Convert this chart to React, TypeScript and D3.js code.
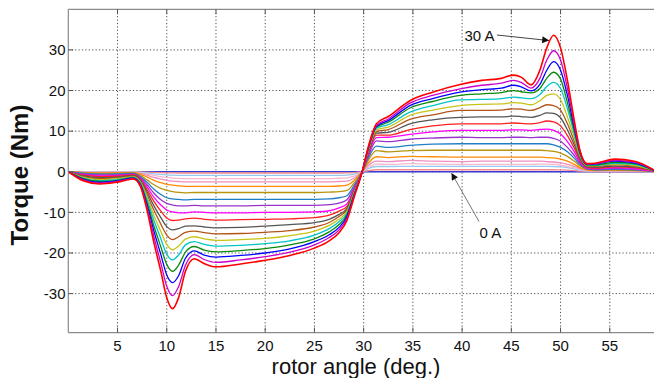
import React from "react";
import * as d3 from "d3";

// Rotor angle sample positions (deg.) shared by every torque curve
const angles = [0, 1.5, 3.2, 5, 6.6, 7.3, 8, 8.7, 9.4, 10, 10.6, 11.2, 11.9, 12.8, 13.8, 15, 17.5, 20, 22.5, 25, 26.5, 27.5, 28.3, 29, 29.85, 30.4, 31.3, 32.5, 34.7, 37, 39.8, 42, 44, 45.2, 46, 47, 47.9, 48.6, 49.3, 50, 50.7, 51.4, 52, 52.7, 53.5, 55.5, 57.5, 59.5];

// Static torque (Nm) per phase current, lowest current first
const torqueC00 = [0, 0, 0, 0, 0, 0, 0, 0, 0, 0, 0, 0, 0, 0, 0, 0, 0, 0, 0, 0, 0, 0, 0, 0, 0, 0, 0, 0, 0, 0, 0, 0, 0, 0, 0, 0, 0, 0, 0, 0, 0, 0, 0, 0, 0, 0, 0, 0];
const torqueC01 = [0, -0.01, -0.02, -0.02, -0.01, -0.05, -0.1, -0.17, -0.22, -0.26, -0.28, -0.3, -0.3, -0.3, -0.3, -0.3, -0.3, -0.3, -0.3, -0.3, -0.3, -0.3, -0.28, -0.2, 0, 0.25, 0.5, 0.5, 0.5, 0.5, 0.5, 0.5, 0.5, 0.5, 0.5, 0.5, 0.5, 0.5, 0.5, 0.45, 0.38, 0.28, 0.16, 0.08, 0.05, 0.05, 0.05, 0.01];
const torqueC02 = [0, -0.04, -0.06, -0.05, -0.04, -0.14, -0.3, -0.5, -0.65, -0.75, -0.82, -0.87, -0.9, -0.9, -0.9, -0.9, -0.9, -0.9, -0.9, -0.9, -0.9, -0.88, -0.85, -0.6, 0, 0.7, 1.3, 1.3, 1.35, 1.35, 1.35, 1.35, 1.35, 1.35, 1.35, 1.35, 1.35, 1.35, 1.3, 1.2, 1.0, 0.7, 0.4, 0.2, 0.1, 0.12, 0.1, 0.01];
const torqueC03 = [0, -0.08, -0.12, -0.1, -0.08, -0.25, -0.55, -0.9, -1.2, -1.4, -1.55, -1.65, -1.7, -1.7, -1.7, -1.7, -1.7, -1.7, -1.7, -1.7, -1.7, -1.6, -1.5, -1.1, 0, 1.0, 1.9, 1.8, 2.0, 1.9, 1.8, 1.8, 1.8, 1.8, 1.8, 1.8, 1.9, 1.9, 1.8, 1.6, 1.3, 0.95, 0.55, 0.25, 0.15, 0.18, 0.15, 0.02];
const torqueC04 = [0, -0.12, -0.2, -0.18, -0.13, -0.4, -0.85, -1.4, -1.8, -2.1, -2.3, -2.4, -2.5, -2.5, -2.5, -2.5, -2.5, -2.5, -2.5, -2.5, -2.5, -2.4, -2.3, -1.6, 0, 1.4, 2.6, 2.5, 2.8, 2.6, 2.5, 2.6, 2.6, 2.6, 2.6, 2.6, 2.6, 2.5, 2.4, 2.2, 1.8, 1.3, 0.75, 0.35, 0.2, 0.25, 0.2, 0.03];
const torqueC05 = [0, -0.2, -0.3, -0.28, -0.2, -0.6, -1.3, -2.1, -2.7, -3.1, -3.3, -3.5, -3.6, -3.6, -3.6, -3.6, -3.6, -3.6, -3.6, -3.6, -3.6, -3.5, -3.3, -2.2, 0, 1.9, 3.7, 3.5, 3.8, 3.7, 3.6, 3.6, 3.6, 3.6, 3.6, 3.6, 3.6, 3.5, 3.4, 3.1, 2.6, 1.8, 1.0, 0.45, 0.3, 0.35, 0.3, 0.05];
const torqueC06 = [0, -0.3, -0.45, -0.4, -0.3, -0.9, -2.0, -3.2, -4.1, -4.6, -4.9, -5.1, -5.2, -5.1, -5.1, -5.1, -5.1, -5.1, -5.1, -5.1, -5.0, -4.9, -4.6, -2.9, 0, 2.5, 5.2, 4.9, 5.2, 5.3, 5.3, 5.3, 5.3, 5.3, 5.3, 5.3, 5.3, 5.2, 5.0, 4.6, 3.8, 2.6, 1.4, 0.6, 0.4, 0.5, 0.4, 0.05];
const torqueC07 = [0, -0.4, -0.6, -0.55, -0.4, -1.2, -2.6, -4.3, -5.6, -6.4, -6.7, -6.8, -6.9, -6.8, -6.8, -6.8, -6.8, -6.8, -6.8, -6.8, -6.7, -6.4, -5.9, -3.5, 0, 3.0, 6.3, 6.0, 6.5, 6.8, 6.9, 6.9, 6.9, 6.9, 6.9, 6.9, 6.9, 6.9, 6.6, 6.0, 4.9, 3.3, 1.7, 0.7, 0.5, 0.6, 0.5, 0.1];
const torqueC08 = [0, -0.55, -0.8, -0.75, -0.55, -1.4, -3.2, -5.3, -6.9, -7.8, -8.2, -8.4, -8.4, -8.3, -8.4, -8.4, -8.4, -8.3, -8.3, -8.3, -8.1, -7.7, -6.9, -4.0, 0, 3.4, 7.6, 7.4, 8.0, 8.3, 8.5, 8.4, 8.4, 8.5, 8.5, 8.4, 8.5, 8.5, 8.2, 7.5, 6.0, 4.0, 2.0, 0.8, 0.6, 0.8, 0.6, 0.1];
const torqueC09 = [0, -0.7, -1.0, -0.9, -0.7, -1.6, -3.8, -6.3, -8.2, -9.4, -9.9, -10.1, -10.1, -9.9, -10.0, -10.1, -10.1, -10.0, -10.0, -9.9, -9.6, -8.9, -7.9, -4.5, 0, 3.8, 8.4, 8.5, 9.2, 9.8, 10.2, 10.2, 10.2, 10.3, 10.3, 10.2, 10.4, 10.5, 10.2, 9.3, 7.4, 4.9, 2.4, 0.9, 0.8, 1.0, 0.8, 0.1];
const torqueC10 = [0, -0.85, -1.2, -1.1, -0.8, -1.8, -4.4, -7.3, -9.7, -11.4, -12.0, -11.9, -11.6, -11.4, -11.7, -11.9, -11.8, -11.7, -11.6, -11.3, -10.7, -9.7, -8.5, -4.8, 0, 4.1, 9.0, 9.0, 10.4, 11.3, 11.8, 11.8, 11.8, 12.0, 11.9, 11.8, 12.1, 12.5, 12.3, 11.3, 8.9, 5.8, 2.8, 1.1, 0.9, 1.2, 1.0, 0.15];
const torqueC11 = [0, -1.0, -1.45, -1.3, -0.95, -2.0, -5.0, -8.4, -11.3, -13.5, -14.3, -14.0, -13.4, -13.3, -13.6, -13.8, -13.7, -13.4, -13.0, -12.5, -11.7, -10.5, -9.0, -5.0, 0, 4.3, 9.5, 9.7, 11.8, 12.8, 13.4, 13.5, 13.5, 13.7, 13.6, 13.4, 13.9, 14.5, 14.4, 13.3, 10.3, 6.6, 3.1, 1.2, 1.1, 1.4, 1.2, 0.2];
const torqueC12 = [0, -1.2, -1.7, -1.5, -1.1, -2.3, -5.6, -9.5, -12.9, -15.6, -16.7, -16.0, -14.9, -14.6, -15.0, -15.3, -15.2, -14.9, -14.5, -13.6, -12.5, -11.0, -9.4, -5.2, 0, 4.5, 9.9, 10.4, 12.9, 14.0, 15.1, 15.1, 15.2, 15.5, 15.4, 15.1, 15.8, 16.5, 16.3, 15.2, 11.8, 7.5, 3.5, 1.4, 1.3, 1.7, 1.4, 0.2];
const torqueC13 = [0, -1.4, -1.95, -1.7, -1.25, -2.5, -6.2, -10.8, -14.7, -17.9, -19.2, -18.3, -16.6, -16.0, -16.5, -16.9, -16.7, -16.4, -15.7, -14.6, -13.2, -11.7, -9.8, -5.4, 0, 4.7, 10.3, 11.0, 13.9, 15.2, 16.3, 16.6, 16.7, 17.0, 16.9, 16.5, 17.5, 18.8, 19.2, 17.8, 13.5, 8.4, 3.8, 1.5, 1.5, 1.9, 1.6, 0.25];
const torqueC14 = [0, -1.55, -2.2, -1.9, -1.4, -2.7, -6.9, -12.0, -16.5, -20.3, -21.7, -20.5, -18.0, -17.2, -17.9, -18.3, -18.1, -17.7, -17.0, -15.6, -14.0, -12.3, -10.2, -5.6, 0, 4.9, 10.7, 11.6, 14.7, 16.3, 17.7, 17.8, 18.0, 18.4, 18.2, 18.0, 19.0, 21.0, 22.0, 20.5, 15.5, 9.3, 4.0, 1.6, 1.6, 2.1, 1.8, 0.3];
const torqueC15 = [0, -1.7, -2.4, -2.1, -1.5, -2.9, -7.6, -13.4, -18.5, -22.8, -24.5, -23.0, -19.8, -18.4, -19.3, -19.7, -19.4, -18.9, -18.0, -16.5, -14.8, -13.0, -10.6, -5.8, 0, 5.0, 11.0, 12.2, 15.7, 17.3, 18.8, 19.2, 19.5, 20.0, 19.7, 19.4, 20.5, 23.0, 24.5, 22.8, 17.0, 10.0, 4.3, 1.7, 1.7, 2.3, 2.0, 0.3];
const torqueC16 = [0, -1.85, -2.6, -2.25, -1.6, -3.1, -8.2, -14.6, -20.4, -25.4, -27.3, -25.6, -21.3, -19.5, -20.5, -21.0, -20.6, -20.0, -19.0, -17.2, -15.5, -13.7, -11.0, -6.0, 0, 5.2, 11.2, 12.6, 16.3, 18.0, 19.6, 20.2, 20.6, 21.3, 20.9, 19.9, 21.5, 25.0, 27.1, 25.0, 18.8, 10.8, 4.6, 1.8, 1.9, 2.6, 2.2, 0.35];
const torqueC17 = [0, -2.0, -2.8, -2.4, -1.7, -3.3, -8.8, -16.0, -22.5, -28.2, -30.5, -28.3, -23.0, -20.4, -21.6, -22.3, -21.7, -20.9, -19.8, -18.0, -16.2, -14.3, -11.5, -6.2, 0, 5.3, 11.4, 13.0, 16.9, 18.8, 20.4, 21.3, 21.8, 22.5, 22.0, 20.6, 23.0, 27.5, 29.8, 27.5, 20.5, 11.5, 4.8, 1.9, 2.0, 2.8, 2.4, 0.4];
const torqueC18 = [0, -2.2, -3.0, -2.55, -1.8, -3.5, -9.5, -17.5, -24.5, -31.0, -33.7, -31.0, -24.5, -21.4, -22.6, -23.4, -22.7, -21.8, -20.6, -18.8, -17.0, -15.0, -12.0, -6.5, 0, 5.5, 11.8, 13.6, 17.5, 19.6, 21.5, 22.5, 23.0, 23.8, 23.3, 21.4, 25.0, 30.5, 33.6, 30.5, 22.5, 12.5, 5.0, 2.0, 2.1, 3.1, 2.6, 0.4];

const curveColors = [
  "#3a3ad8", "#f48a8a", "#96c8f0", "#f5b9cd", "#ef8fc0", "#ff8a00", "#b8950c",
  "#1f7fc6", "#9933cc", "#ff00ff", "#ff2020", "#555555", "#b3551a", "#c6c414",
  "#00c6c6", "#0a8a0a", "#0000ff", "#cc00cc", "#ff0000",
];

const xTicks = [5, 10, 15, 20, 25, 30, 35, 40, 45, 50, 55];
const yTicks = [-30, -20, -10, 0, 10, 20, 30];

const FONT = "'Liberation Sans', Arial, Helvetica, sans-serif";

export default function App() {
  const series = [
    torqueC00, torqueC01, torqueC02, torqueC03, torqueC04, torqueC05, torqueC06,
    torqueC07, torqueC08, torqueC09, torqueC10, torqueC11, torqueC12, torqueC13,
    torqueC14, torqueC15, torqueC16, torqueC17, torqueC18,
  ];

  const left = 68.3;
  const right = 659;
  const top = 9.3;
  const bottom = 332.6;

  const x = d3.scaleLinear().domain([0, 60]).range([left, right]);
  const y = d3.scaleLinear().domain([-39.6, 40]).range([bottom, top]);

  const line = d3
    .line<number>()
    .x((_, i) => x(angles[i]))
    .y((d) => y(d))
    .curve(d3.curveMonotoneX);

  const gridColor = "#3a3a3a";
  const axisColor = "#8a8a8a";

  return (
    <svg
      width={654}
      height={378}
      style={{ position: "fixed", left: 0, top: 0, background: "#fff" }}
      fontFamily={FONT}
    >
      <defs>
        <clipPath id="plotClip">
          <rect x={left} y={top} width={right - left} height={bottom - top} />
        </clipPath>
        <marker id="arrowHead" viewBox="0 0 10 10" refX="9" refY="5" markerWidth="9" markerHeight="7" orient="auto" markerUnits="userSpaceOnUse">
          <path d="M0,0 L10,5 L0,10 z" fill="#111" />
        </marker>
      </defs>

      <rect x={0} y={0} width={654} height={378} fill="#fff" />

      {/* dotted grid */}
      <g stroke={gridColor} strokeWidth={0.9} strokeDasharray="1.2 2.2">
        {xTicks.map((t) => (
          <line key={`gx${t}`} x1={x(t)} x2={x(t)} y1={top} y2={bottom} />
        ))}
        {yTicks.map((t) => (
          <line key={`gy${t}`} x1={left} x2={right} y1={y(t)} y2={y(t)} />
        ))}
      </g>

      {/* torque curves */}
      <g clipPath="url(#plotClip)" fill="none" strokeLinejoin="round">
        {series.map((s, k) => (
          <path
            key={k}
            d={line(s) || ""}
            stroke={curveColors[k]}
            strokeWidth={k === series.length - 1 ? 1.6 : 1.3}
          />
        ))}
      </g>

      {/* axes box and inward ticks */}
      <g stroke={axisColor} strokeWidth={1.2} fill="none">
        <line x1={left} x2={left} y1={top} y2={bottom} />
        <line x1={left} x2={right} y1={bottom} y2={bottom} />
        <line x1={left} x2={right} y1={top} y2={top} />
      </g>
      <g stroke="#555" strokeWidth={1}>
        {xTicks.map((t) => (
          <g key={`tx${t}`}>
            <line x1={x(t)} x2={x(t)} y1={bottom} y2={bottom - 5} />
            <line x1={x(t)} x2={x(t)} y1={top} y2={top + 5} />
          </g>
        ))}
        {yTicks.map((t) => (
          <line key={`ty${t}`} x1={left} x2={left + 5} y1={y(t)} y2={y(t)} />
        ))}
      </g>

      {/* tick labels */}
      <g fontSize={15} fill="#111" textAnchor="middle">
        {xTicks.map((t) => (
          <text key={`lx${t}`} x={x(t)} y={351}>
            {t}
          </text>
        ))}
      </g>
      <g fontSize={15} fill="#111" textAnchor="end">
        {yTicks.map((t) => (
          <text key={`ly${t}`} x={65.5} y={y(t) + 5.3}>
            {t}
          </text>
        ))}
      </g>

      {/* axis titles */}
      <text x={356} y={374} fontSize={22} textAnchor="middle" fill="#111">
        rotor angle (deg.)
      </text>
      <text
        transform="translate(27.5,175) rotate(-90)"
        fontSize={24}
        fontWeight="bold"
        textAnchor="middle"
        fill="#111"
      >
        Torque (Nm)
      </text>

      {/* annotations */}
      <text x={464.5} y={40.8} fontSize={15} fill="#111">
        30 A
      </text>
      <line x1={497} y1={35} x2={548.5} y2={40.5} stroke="#444" strokeWidth={1} markerEnd="url(#arrowHead)" />
      <text x={479.5} y={238} fontSize={15} fill="#111">
        0 A
      </text>
      <line x1={479} y1={221.5} x2={451.8} y2={173.5} stroke="#777" strokeWidth={1} markerEnd="url(#arrowHead)" />
    </svg>
  );
}
